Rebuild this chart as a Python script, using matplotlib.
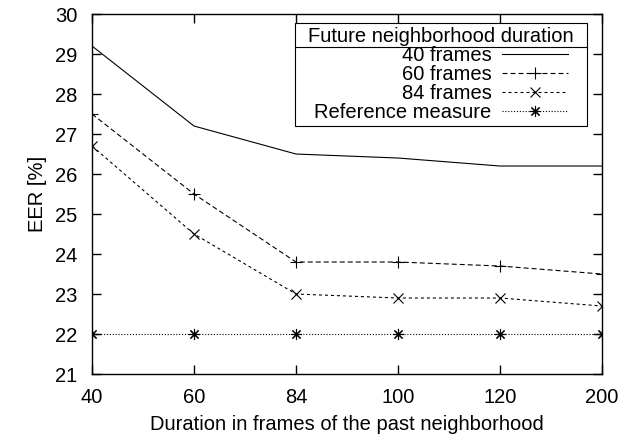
import matplotlib
matplotlib.use('Agg')
import matplotlib.pyplot as plt
from matplotlib.lines import Line2D
from matplotlib.patches import Rectangle

plt.rcParams['font.family'] = ['Liberation Sans', 'DejaVu Sans']
plt.rcParams['font.size'] = 14.5

# past neighborhood durations (categorical x axis)
past_durations = ['40', '60', '84', '100', '120', '200']
eer_40 = [29.2, 27.2, 26.5, 26.4, 26.2, 26.2]
eer_60 = [27.5, 25.5, 23.8, 23.8, 23.7, 23.5]
eer_84 = [26.7, 24.5, 23.0, 22.9, 22.9, 22.7]
eer_ref = [22.0, 22.0, 22.0, 22.0, 22.0, 22.0]

fig = plt.figure(figsize=(6.2, 4.34), dpi=100)
ax = fig.add_axes([0.1484, 0.1382, 0.8226, 0.8295])

x = list(range(len(past_durations)))
lw = 0.8
ax.plot(x, eer_40, color='black', lw=lw, linestyle='-', label='40 frames')
ax.plot(x, eer_60, color='black', lw=lw, linestyle=(0, (4.5, 2.7)), marker='+',
        ms=8, mew=0.8, label='60 frames')
ax.plot(x, eer_84, color='black', lw=lw, linestyle=(0, (2.7, 2.7)), marker='x',
        ms=6.5, mew=0.8, label='84 frames')
ax.plot(x, eer_ref, color='black', lw=lw, linestyle=(0, (1, 1.6)), marker=(8, 2, 0),
        ms=8, mew=0.8, label='Reference measure')

ax.set_xlim(0, len(x) - 1)
ax.set_ylim(21, 30)
ax.set_xticks(x)
ax.set_xticklabels(past_durations)
ax.set_yticks(range(21, 31))
ax.tick_params(direction='in', length=6.5, width=1, top=True, right=True)
ax.tick_params(axis='x', pad=10)
ax.tick_params(axis='y', pad=10.5)
for s in ax.spines.values():
    s.set_linewidth(1.0)

ax.set_xlabel('Duration in frames of the past neighborhood', labelpad=6)
ax.set_ylabel('EER [%]', labelpad=6)

leg = ax.legend(title='Future neighborhood duration', loc='upper right',
                bbox_to_anchor=(0.953, 0.975), markerfirst=False, frameon=False,
                handlelength=3.3, labelspacing=0.0, borderpad=0.2,
                handletextpad=0.5, borderaxespad=0, title_fontsize=14.5)

# legend frame (more padding left/right) and separator under the title
fig.canvas.draw()
lb = leg.get_window_extent()
tb = leg.get_title().get_window_extent()
inv = fig.transFigure.inverted()
(fx0, fy0), (fx1, fy1) = inv.transform([(lb.x0 - 9, lb.y0), (lb.x1 + 9, lb.y1)])
ax.add_patch(Rectangle((fx0, fy0), fx1 - fx0, fy1 - fy0, transform=fig.transFigure,
                       facecolor='white', edgecolor='black', lw=0.8, zorder=4.5,
                       clip_on=False))
(_, ys), = inv.transform([(0, tb.y0 - 1)])
ax.add_line(Line2D([fx0, fx1], [ys, ys], transform=fig.transFigure,
                   color='black', lw=0.8, zorder=5.5, clip_on=False))

fig.savefig('out.png', dpi=100)
